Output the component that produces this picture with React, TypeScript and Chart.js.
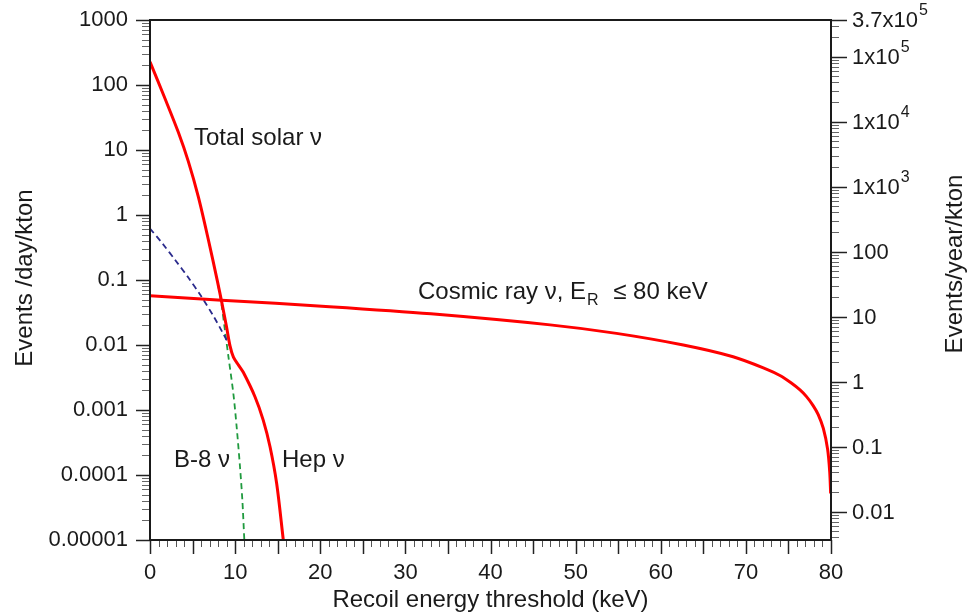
import React, { useEffect, useRef } from "react";
import { Chart, registerables } from "chart.js";

Chart.register(...registerables);

// ---- Data (recoil energy threshold in keV, event rate in events/day/kton) ----
const totalKeV = [0, 1.76, 3.33, 4.5, 5.68, 6.85, 7.91, 8.42, 9.0, 9.4, 9.8, 10.4, 10.96, 12.33, 13.3, 14.1, 14.88, 15.66];
const totalRate = [228, 62, 18.7, 6.68, 1.9, 0.42, 0.097, 0.046, 0.0187, 0.0097, 0.0065, 0.0049, 0.0038, 0.0016, 0.0007, 0.000272, 0.000074, 0.00001];

const blueKeV = [0, 1.5, 3, 4.5, 6, 7.5, 8.5, 9.4];
const blueRate = [0.62, 0.359, 0.2, 0.109, 0.0565, 0.0272, 0.0158, 0.0095];

const b8KeV = [8.0, 8.4, 8.8, 9.2, 9.79, 10.18, 10.57, 10.85, 11.08];
const b8Rate = [0.085, 0.042, 0.017, 0.0068, 0.0018, 0.00055, 0.000135, 0.000041, 0.00001];

const cosmicKeV = [0, 8.4, 21.1, 33, 47, 54.8, 62.65, 68.5, 72.4, 74, 75.3, 76.36, 77.1, 77.9, 78.5, 79.1, 79.6, 79.85, 79.96];
const cosmicRate = [0.0574, 0.049, 0.0389, 0.0302, 0.0204, 0.0151, 0.01, 0.0066, 0.00427, 0.0034, 0.00263, 0.00204, 0.00162, 0.00117, 0.00085, 0.00052, 0.00025, 0.000112, 0.000052];

const leftTickValues = [0.00001, 0.0001, 0.001, 0.01, 0.1, 1, 10, 100, 1000];
const leftTickLabels = ["0.00001", "0.0001", "0.001", "0.01", "0.1", "1", "10", "100", "1000"];

const rightTickValues = [0.01, 0.1, 1, 10, 100, 1000, 10000, 100000, 365000];
const rightTickBase = ["0.01", "0.1", "1", "10", "100", "1x10", "1x10", "1x10", "3.7x10"];
const rightTickExp = ["", "", "", "", "", "3", "4", "5", "5"];

const DAYS_PER_YEAR = 365;
const FONT = '"Liberation Sans", Arial, Helvetica, sans-serif';
const TEXT = "#1a1a1a";

const toPoints = (xs: number[], ys: number[]) => xs.map((x, i) => ({ x, y: ys[i] }));

const decorPlugin = {
  id: "decor",
  afterDraw(chart: any) {
    const ctx = chart.ctx as CanvasRenderingContext2D;
    const { left, right, top, bottom } = chart.chartArea;
    const xs = chart.scales.x;
    const ys = chart.scales.y;
    const y2 = chart.scales.y2;
    ctx.save();

    const line = (x1: number, y1: number, x2: number, y2_: number) => {
      ctx.beginPath();
      ctx.moveTo(x1, y1);
      ctx.lineTo(x2, y2_);
      ctx.stroke();
    };

    // x ticks (outward, below)
    for (let k = 0; k <= 80; k++) {
      const px = Math.round(xs.getPixelForValue(k)) + 0.5;
      const major = k % 5 === 0;
      ctx.strokeStyle = major ? "#222" : "#555";
      ctx.lineWidth = major ? 1.5 : 1;
      line(px, bottom, px, bottom + (major ? 14 : 7));
    }
    // left log ticks
    for (let e = -5; e <= 3; e++) {
      for (let m = 1; m <= 9; m++) {
        const v = m * Math.pow(10, e);
        if (v > 1000.0001) break;
        const py = Math.round(ys.getPixelForValue(v)) + 0.5;
        const major = m === 1;
        ctx.strokeStyle = major ? "#222" : "#666";
        ctx.lineWidth = major ? 1.5 : 1;
        line(left - (major ? 14 : 8), py, left, py);
      }
    }
    // right log ticks (events/year)
    const yMin = 0.00001 * DAYS_PER_YEAR;
    const yMax = 1000 * DAYS_PER_YEAR;
    for (let e = -3; e <= 5; e++) {
      for (let m = 1; m <= 9; m++) {
        const v = m * Math.pow(10, e);
        if (v < yMin || v > yMax) continue;
        const py = Math.round(y2.getPixelForValue(v)) + 0.5;
        const major = m === 1;
        ctx.strokeStyle = major ? "#222" : "#666";
        ctx.lineWidth = major ? 1.5 : 1;
        line(right, py, right + (major ? 16 : 8), py);
      }
    }
    {
      const py = Math.round(y2.getPixelForValue(yMax)) + 0.5;
      ctx.strokeStyle = "#222";
      ctx.lineWidth = 1.5;
      line(right, py, right + 16, py);
    }

    // right tick labels with raised exponents
    ctx.fillStyle = TEXT;
    ctx.textAlign = "left";
    ctx.textBaseline = "middle";
    rightTickValues.forEach((v, i) => {
      const py = y2.getPixelForValue(v);
      const x0 = right + 21;
      ctx.font = `22px ${FONT}`;
      ctx.fillText(rightTickBase[i], x0, py + 1);
      if (rightTickExp[i]) {
        const w = ctx.measureText(rightTickBase[i]).width;
        ctx.font = `16px ${FONT}`;
        ctx.fillText(rightTickExp[i], x0 + w + 1, py - 9);
      }
    });

    // frame
    ctx.strokeStyle = "#1a1a1a";
    ctx.lineWidth = 2;
    ctx.strokeRect(left, top, right - left, bottom - top);

    // axis titles
    ctx.fillStyle = TEXT;
    ctx.font = `24px ${FONT}`;
    ctx.textAlign = "center";
    ctx.textBaseline = "alphabetic";
    ctx.fillText("Recoil energy threshold (keV)", (left + right) / 2, 607);

    ctx.textBaseline = "middle";
    ctx.save();
    ctx.translate(25, 278);
    ctx.rotate(-Math.PI / 2);
    ctx.fillText("Events /day/kton", 0, 0);
    ctx.restore();
    ctx.save();
    ctx.translate(955, 264);
    ctx.rotate(-Math.PI / 2);
    ctx.fillText("Events/year/kton", 0, 0);
    ctx.restore();

    // annotations
    ctx.textAlign = "left";
    ctx.textBaseline = "alphabetic";
    ctx.font = `24px ${FONT}`;
    ctx.fillText("Total solar ν", 194, 145);
    ctx.fillText("B-8 ν", 174, 467);
    ctx.fillText("Hep ν", 282, 467);

    let cx = 418;
    const base = 299;
    const part1 = "Cosmic ray ν, E";
    ctx.fillText(part1, cx, base);
    cx += ctx.measureText(part1).width;
    ctx.font = `16px ${FONT}`;
    ctx.fillText("R", cx + 1, base + 6);
    cx += ctx.measureText("R").width + 1;
    ctx.font = `24px ${FONT}`;
    ctx.fillText(" ≤ 80 keV", cx + 8, base);

    ctx.restore();
  },
};

const noPad = (scale: any) => {
  scale.paddingTop = 0;
  scale.paddingBottom = 0;
  scale.paddingLeft = 0;
  scale.paddingRight = 0;
};

export default function App() {
  const canvasRef = useRef<HTMLCanvasElement | null>(null);

  useEffect(() => {
    if (!canvasRef.current) return;
    const chart = new Chart(canvasRef.current, {
      type: "line",
      data: {
        datasets: [
          {
            label: "Total solar ν",
            data: toPoints(totalKeV, totalRate),
            borderColor: "#ff0000",
            borderWidth: 3,
            pointRadius: 0,
            tension: 0.3,
            fill: false,
          },
          {
            label: "Cosmic ray ν",
            data: toPoints(cosmicKeV, cosmicRate),
            borderColor: "#ff0000",
            borderWidth: 3,
            pointRadius: 0,
            tension: 0.3,
            fill: false,
          },
          {
            label: "blue dashed",
            data: toPoints(blueKeV, blueRate),
            borderColor: "#2a2a8c",
            borderWidth: 1.8,
            borderDash: [6, 4],
            pointRadius: 0,
            tension: 0.3,
            fill: false,
          },
          {
            label: "B-8 ν",
            data: toPoints(b8KeV, b8Rate),
            borderColor: "#1f9a3e",
            borderWidth: 1.8,
            borderDash: [6, 4],
            pointRadius: 0,
            tension: 0.3,
            fill: false,
          },
        ],
      },
      options: {
        responsive: false,
        animation: false,
        devicePixelRatio: 1,
        layout: { padding: { top: 20, left: 0, right: 0, bottom: 0 } },
        plugins: {
          legend: { display: false },
          tooltip: { enabled: false },
        },
        scales: {
          x: {
            type: "linear",
            position: "bottom",
            min: 0,
            max: 80,
            grid: { display: false, drawTicks: false },
            border: { display: false },
            ticks: {
              stepSize: 10,
              autoSkip: false,
              maxRotation: 0,
              padding: 20,
              color: TEXT,
              font: { family: FONT, size: 22 },
            },
            afterFit: (scale: any) => {
              scale.height = 73;
              noPad(scale);
            },
          },
          y: {
            type: "logarithmic",
            position: "left",
            min: 0.00001,
            max: 1000,
            grid: { display: false, drawTicks: false },
            border: { display: false },
            afterBuildTicks: (scale: any) => {
              scale.ticks = leftTickValues.map((v) => ({ value: v }));
            },
            ticks: {
              autoSkip: false,
              padding: 22,
              color: TEXT,
              font: { family: FONT, size: 22 },
              callback: (_v: any, i: number) => leftTickLabels[i],
            },
            afterFit: (scale: any) => {
              scale.width = 150;
              noPad(scale);
            },
          },
          y2: {
            type: "logarithmic",
            position: "right",
            min: 0.00001 * DAYS_PER_YEAR,
            max: 1000 * DAYS_PER_YEAR,
            grid: { display: false, drawTicks: false },
            border: { display: false },
            afterBuildTicks: (scale: any) => {
              scale.ticks = rightTickValues.map((v) => ({ value: v }));
            },
            ticks: {
              display: false,
              autoSkip: false,
            },
            afterFit: (scale: any) => {
              scale.width = 142;
              noPad(scale);
            },
          },
        },
      },
      plugins: [decorPlugin],
    } as any);
    return () => chart.destroy();
  }, []);

  return (
    <div style={{ position: "absolute", left: 0, top: 0, width: 973, height: 613, background: "#fff" }}>
      <canvas ref={canvasRef} width={973} height={613} style={{ display: "block" }} />
    </div>
  );
}
